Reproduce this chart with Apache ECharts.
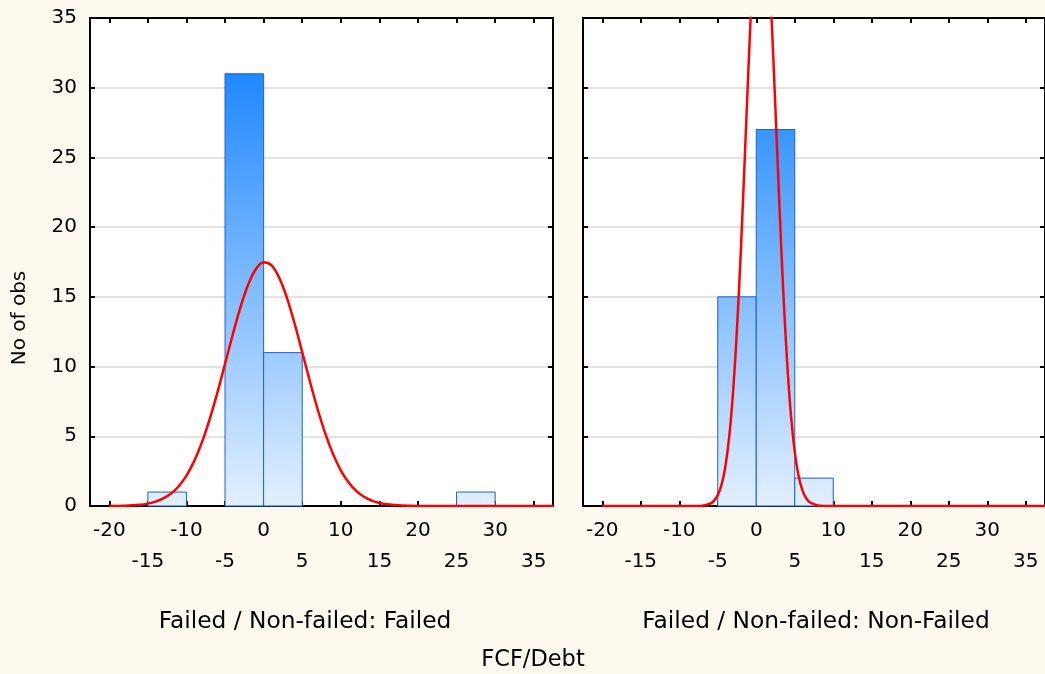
<!DOCTYPE html>
<html>
<head>
<meta charset="utf-8">
<title>FCF/Debt histogram</title>
<style>
  html, body { margin: 0; padding: 0; background: #fdf9ee; }
  #main { width: 1045px; height: 674px; }
</style>
</head>
<body>
<div id="main"></div>
<script src="https://cdn.jsdelivr.net/npm/echarts@6/dist/echarts.min.js"></script>
<script>
// histogram bins (width 5), left edges and counts
var binStarts = [-20, -15, -10, -5, 0, 5, 10, 15, 20, 25, 30];
var failedCounts = [0, 1, 0, 31, 11, 0, 0, 0, 0, 1, 0];
var nonFailedCounts = [0, 0, 0, 15, 27, 2, 0, 0, 0, 0, 0];
var binWidth = 5;

// x tick values shown under both panels
var xTicks = [-20, -15, -10, -5, 0, 5, 10, 15, 20, 25, 30, 35];

// fitted normal curves
var failedCurveX = [-20, -18, -16, -15, -14, -13, -12, -11, -10, -9, -8, -7, -6, -5, -4, -3, -2, -1, 0,
  1, 2, 3, 4, 5, 6, 7, 8, 9, 10, 11, 12, 13, 14, 15, 16, 18, 20, 25, 30, 37.5];
var failedCurveY = [0.005, 0.02, 0.09, 0.17, 0.31, 0.54, 0.89, 1.42, 2.18, 3.22, 4.56, 6.21, 8.11, 10.19, 12.3, 14.26, 15.88, 17.0, 17.49,
  17.28, 16.4, 14.96, 13.11, 11.04, 8.93, 6.94, 5.18, 3.72, 2.56, 1.7, 1.08, 0.66, 0.39, 0.22, 0.12, 0.03, 0.007, 0, 0, 0];

var nonFailedCurveX = [-20, -10, -8, -7, -6, -5.5, -5, -4.5, -4, -3.5, -3, -2.5, -2, -1.5, -1, -0.5, 0, 0.5,
  1, 1.5, 2, 2.5, 3, 3.5, 4, 4.5, 5, 5.5, 6, 6.5, 7, 8, 9, 10, 20, 37.5];
var nonFailedCurveY = [0, 0, 0.003, 0.026, 0.16, 0.37, 0.78, 1.54, 2.87, 5.03, 8.25, 12.7, 18.33, 24.83, 31.57, 37.64, 42.12, 44.2,
  43.53, 40.22, 34.87, 28.36, 21.64, 15.49, 10.41, 6.56, 3.88, 2.15, 1.12, 0.55, 0.25, 0.04, 0.006, 0, 0, 0];

var xMin = -22.5, xMax = 37.5, yMax = 35;
var font = 'DejaVu Sans';

function pairs(xs, ys) {
  return xs.map(function (x, i) { return [x, ys[i]]; });
}
function bins(counts) {
  return counts.map(function (n, i) { return [binStarts[i], binStarts[i] + binWidth, n]; });
}

function renderBin(params, api) {
  var n = api.value(2);
  if (!n) return null;
  var p0 = api.coord([api.value(0), n]);
  var p1 = api.coord([api.value(1), 0]);
  var top = api.coord([xMin, yMax])[1];
  return {
    type: 'rect',
    shape: { x: p0[0], y: p0[1], width: p1[0] - p0[0], height: p1[1] - p0[1] },
    style: {
      fill: {
        type: 'linear', x: 0, y: top, x2: 0, y2: p1[1], global: true,
        colorStops: [{ offset: 0, color: '#077bff' }, { offset: 1, color: '#e2f0ff' }]
      },
      stroke: '#1b5fd6',
      lineWidth: 1
    }
  };
}

function xAxisDef(gridIndex, pos) {
  var bottom = pos === 'bottom';
  return {
    type: 'value', gridIndex: gridIndex, position: pos, min: xMin, max: xMax,
    axisLine: { show: true, onZero: false, lineStyle: { color: '#000', width: 2 } },
    axisTick: { show: true, inside: true, length: 5, customValues: xTicks, lineStyle: { color: '#000', width: 2 } },
    axisLabel: {
      show: bottom, customValues: xTicks, margin: 9, lineHeight: 31,
      color: '#000', fontSize: 20, fontFamily: font,
      formatter: function (v) { return (Math.round(v / 5) % 2 === 0) ? String(v) : '\n' + v; }
    },
    splitLine: { show: false }
  };
}

function yAxisDef(gridIndex, pos, labels) {
  return {
    type: 'value', gridIndex: gridIndex, position: pos, min: 0, max: yMax, interval: 5,
    axisLine: { show: true, onZero: false, lineStyle: { color: '#000', width: 2 } },
    axisTick: { show: true, inside: true, length: 5, lineStyle: { color: '#000', width: 2 } },
    axisLabel: { show: labels, margin: 13, color: '#000', fontSize: 20, fontFamily: font },
    splitLine: { show: pos === 'left', lineStyle: { color: '#e3e3e3', width: 2 } }
  };
}

var chart = echarts.init(document.getElementById('main'));
chart.setOption({
  backgroundColor: '#fdf9ee',
  animation: false,
  grid: [
    { left: 90, top: 18, width: 463, height: 488, show: true, backgroundColor: '#fff', borderWidth: 0 },
    { left: 583, top: 18, width: 463, height: 488, show: true, backgroundColor: '#fff', borderWidth: 0 }
  ],
  xAxis: [xAxisDef(0, 'bottom'), xAxisDef(0, 'top'), xAxisDef(1, 'bottom'), xAxisDef(1, 'top')],
  yAxis: [yAxisDef(0, 'left', true), yAxisDef(0, 'right', false), yAxisDef(1, 'left', false), yAxisDef(1, 'right', false)],
  series: [
    { type: 'custom', xAxisIndex: 0, yAxisIndex: 0, renderItem: renderBin, data: bins(failedCounts) },
    { type: 'custom', xAxisIndex: 2, yAxisIndex: 2, renderItem: renderBin, data: bins(nonFailedCounts) },
    {
      type: 'line', xAxisIndex: 0, yAxisIndex: 0, data: pairs(failedCurveX, failedCurveY),
      smooth: 0.3, showSymbol: false, clip: true, lineStyle: { color: '#ff0000', width: 2.5 }
    },
    {
      type: 'line', xAxisIndex: 2, yAxisIndex: 2, data: pairs(nonFailedCurveX, nonFailedCurveY),
      smooth: 0.3, showSymbol: false, clip: true, lineStyle: { color: '#ff0000', width: 2.5 }
    }
  ],
  graphic: [
    { type: 'text', x: 20, y: 318, rotation: Math.PI / 2,
      style: { text: 'No of obs', fontSize: 20, fontFamily: font, fill: '#000', align: 'center', verticalAlign: 'middle' } },
    { type: 'text', x: 305, y: 622,
      style: { text: 'Failed / Non-failed: Failed', fontSize: 23.3, fontFamily: font, fill: '#000', align: 'center', verticalAlign: 'middle' } },
    { type: 'text', x: 816, y: 622,
      style: { text: 'Failed / Non-failed: Non-Failed', fontSize: 23.3, fontFamily: font, fill: '#000', align: 'center', verticalAlign: 'middle' } },
    { type: 'text', x: 533, y: 660,
      style: { text: 'FCF/Debt', fontSize: 22.5, fontFamily: font, fill: '#000', align: 'center', verticalAlign: 'middle' } }
  ]
});
</script>
</body>
</html>
